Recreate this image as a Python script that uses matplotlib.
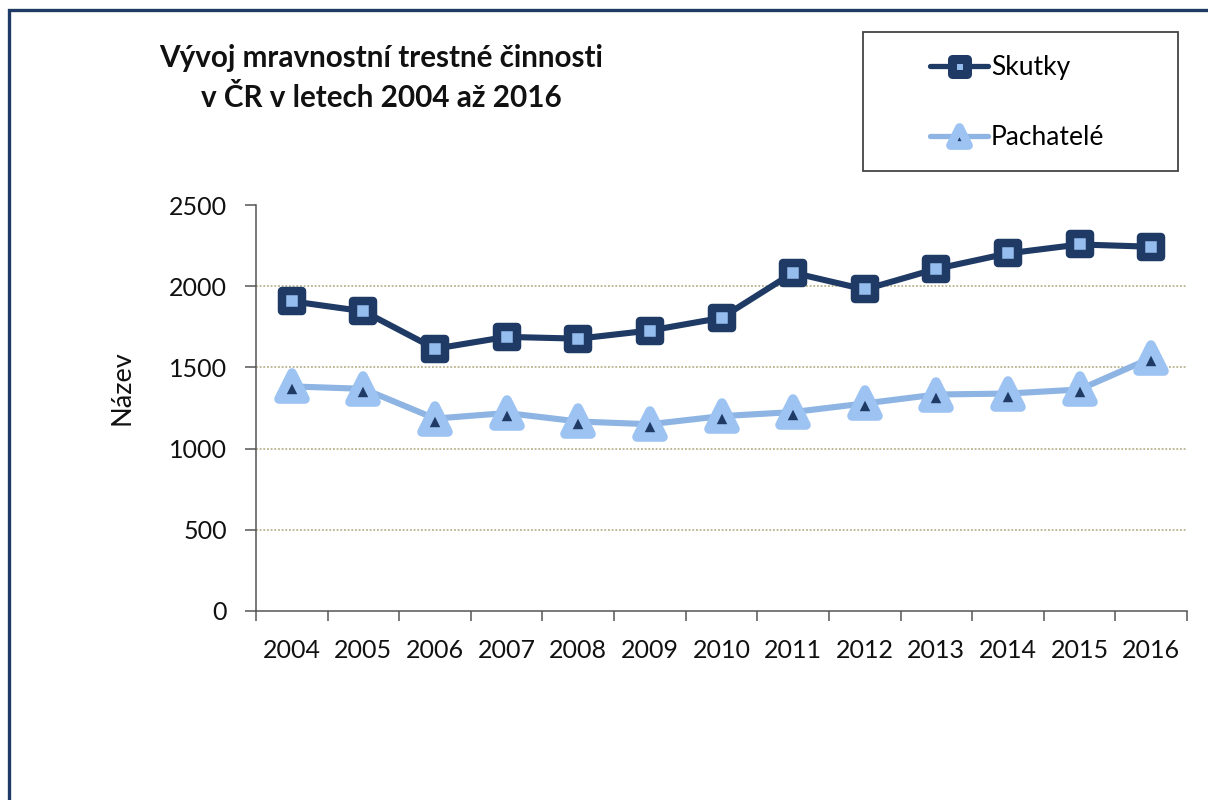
import matplotlib
matplotlib.use("Agg")
import matplotlib.pyplot as plt
from matplotlib.lines import Line2D
from matplotlib.markers import MarkerStyle
from matplotlib.patches import Rectangle

years = ["2004", "2005", "2006", "2007", "2008", "2009", "2010",
         "2011", "2012", "2013", "2014", "2015", "2016"]
skutky = [1907, 1846, 1615, 1688, 1677, 1727, 1805, 2083, 1980, 2107, 2202, 2257, 2243]
pachatele = [1383, 1368, 1185, 1219, 1167, 1150, 1200, 1225, 1278, 1333, 1339, 1364, 1558]
series_names = ["Skutky", "Pachatelé"]
y_ticks = [0, 500, 1000, 1500, 2000, 2500]

title = "Vývoj mravnostní trestné činnosti\nv ČR v letech 2004 až 2016"
y_label = "Název"

DARK = "#1F3A64"
LIGHT_FACE = "#95BDEE"
LIGHT_LINE = "#8DB4E2"
LIGHT_TRI = "#9DC3F2"
GRID = "#ADA67A"

plt.rcParams["font.family"] = ["Lato", "DejaVu Sans"]

fig = plt.figure(figsize=(12.08, 8.0), dpi=100)
ax = fig.add_axes([256 / 1208, 1 - 611 / 800, (1187 - 256) / 1208, (611 - 205) / 800])

x = list(range(len(years)))
sq = MarkerStyle("s", joinstyle="round")
tri = MarkerStyle("^", joinstyle="round")

ax.plot(x, pachatele, color=LIGHT_LINE, lw=4.4, solid_capstyle="round",
        marker=tri, ms=18.3, mew=6.9, mec=LIGHT_TRI, mfc=DARK, zorder=3)
ax.plot(x, skutky, color=DARK, lw=4.4, solid_capstyle="round",
        marker=sq, ms=14.0, mew=6.1, mec=DARK, mfc=LIGHT_FACE, zorder=4)

ax.set_xlim(-0.5, len(years) - 0.5)
ax.set_ylim(0, 2500)
ax.set_yticks(y_ticks)
ax.set_yticklabels([str(v) for v in y_ticks])
ax.set_xticks(x)
ax.set_xticklabels(years)
ax.set_xticks([i - 0.5 for i in range(len(years) + 1)], minor=True)

for v in y_ticks[1:-1]:
    ax.axhline(v, color=GRID, lw=1.1, ls=(0, (1.2, 1.2)), zorder=1)

for s in ["top", "right"]:
    ax.spines[s].set_visible(False)
for s in ["left", "bottom"]:
    ax.spines[s].set_color("#555555")
    ax.spines[s].set_linewidth(1.1)

ax.tick_params(axis="y", direction="out", length=8, width=1.1, color="#555555",
               labelsize=18, pad=13, labelcolor="#111111")
ax.tick_params(axis="x", which="major", length=0, labelsize=18, pad=20,
               labelcolor="#111111")
ax.tick_params(axis="x", which="minor", direction="out", length=7.5, width=1.1,
               color="#555555")

fig.text(122 / 1208, 1 - 388 / 800, y_label, rotation=90, ha="center", va="center",
         fontsize=19.5, color="#111111")

fig.text(381.5 / 1208, 1 - 78 / 800, title, ha="center", va="center",
         fontsize=21.3, fontweight="bold", color="#111111", linespacing=1.5)

# legend frame
fig.add_artist(Rectangle((863 / 1208, 1 - 171 / 800), (1178 - 863) / 1208,
                         (171 - 32) / 800, transform=fig.transFigure, fill=False,
                         edgecolor="#444444", lw=1.3))

handles = [
    Line2D([], [], color=DARK, lw=3.8, marker=sq, ms=10.8, mew=6.5, mec=DARK,
           mfc=LIGHT_FACE, solid_capstyle="round"),
    Line2D([], [], color=LIGHT_LINE, lw=3.8, marker=tri, ms=12.4, mew=6.3,
           mec=LIGHT_TRI, mfc=DARK, solid_capstyle="round"),
]
fig.legend(handles, series_names, loc="center left",
           bbox_to_anchor=(917 / 1208, 1 - 102.5 / 800), frameon=False,
           borderpad=0, handlelength=2.2, handletextpad=0.1,
           labelspacing=1.72, fontsize=19)

# outer frame (top and left edges)
fig.add_artist(Line2D([8.5 / 1208, 8.5 / 1208, 1.0], [0.0, 1 - 9.5 / 800, 1 - 9.5 / 800],
                      transform=fig.transFigure, color=DARK, lw=2.4,
                      solid_joinstyle="miter"))

fig.savefig("out.png", dpi=100)
